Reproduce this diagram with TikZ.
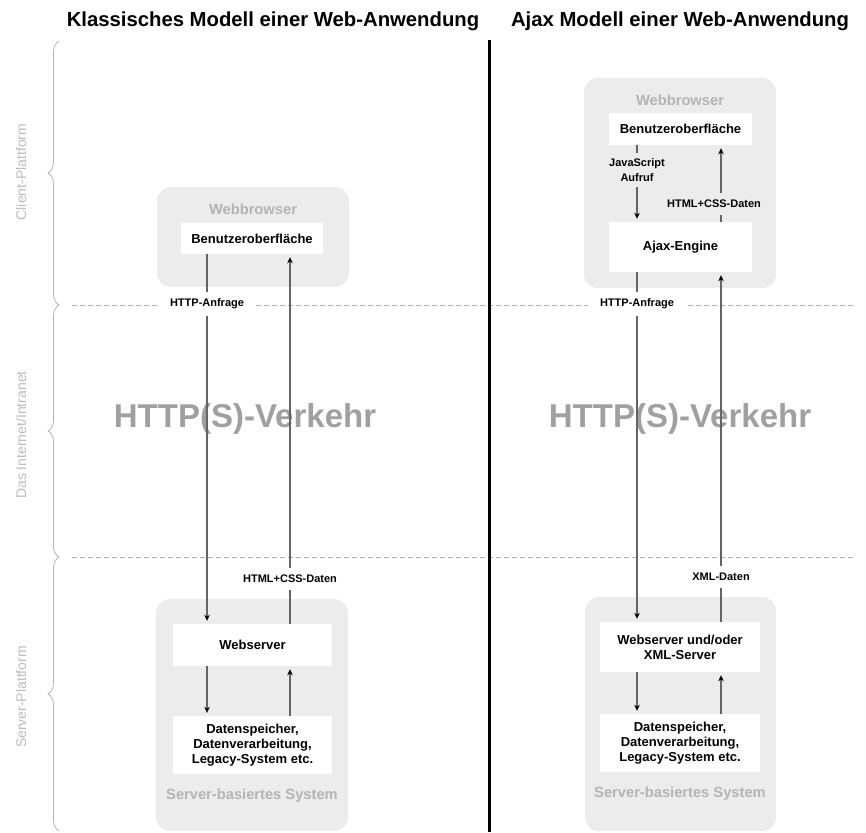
\documentclass[tikz,border=0pt]{standalone}
\usepackage{fontspec}
\setmainfont{Liberation Sans}
\usetikzlibrary{arrows.meta,decorations.pathreplacing}
\definecolor{boxgray}{RGB}{236,236,236}
\definecolor{lblgray}{RGB}{180,180,180}
\definecolor{sidegray}{RGB}{188,188,188}
\definecolor{biggray}{RGB}{160,160,160}
\definecolor{linec}{RGB}{100,100,100}
\definecolor{dashc}{RGB}{175,175,175}
\definecolor{bracec}{RGB}{180,180,180}
\begin{document}
\begin{tikzpicture}[x=1pt,y=-1pt,
  titletxt/.style={inner sep=0pt, font=\bfseries\fontsize{20.3}{24}\selectfont},
  dashline/.style={draw=dashc, line width=0.8pt, dash pattern=on 5pt off 3pt},
  bracestyle/.style={draw=bracec, line width=0.8pt, decorate, decoration={brace, amplitude=11pt}},
  sidelbl/.style={rotate=90, text=sidegray, inner sep=0pt, font=\fontsize{14}{16}\selectfont},
  bigtxt/.style={text=biggray, inner sep=0pt, font=\bfseries\fontsize{33}{38}\selectfont},
  container/.style={fill=boxgray, rounded corners=14pt, inner sep=0pt},
  ctitle/.style={text=lblgray, inner sep=0pt, font=\bfseries\fontsize{14.7}{17}\selectfont},
  innerbox/.style={fill=white, inner sep=0pt, align=center, font=\bfseries\fontsize{13}{15}\selectfont},
  conn/.style={draw=linec, line width=1.1pt, -{Stealth[length=6pt,width=5.5pt,inset=1.8pt,color=black]}, shorten >=3pt},
  flowlbl/.style={fill=white, inner xsep=12pt, inner ysep=7pt, align=center, font=\bfseries\fontsize{11}{15}\selectfont}
]
\useasboundingbox (0,0) rectangle (866,832);
% titles
\node[titletxt] (t1) at (273,21) {Klassisches Modell einer Web-Anwendung};
\node[titletxt] (t2) at (680,21) {Ajax Modell einer Web-Anwendung};
% dashed separators
\draw[dashline] (72,305) -- (853,305);
\draw[dashline] (72,557) -- (853,557);
% braces
\draw[bracestyle] (59,305) -- (59,41);
\draw[bracestyle] (59,557) -- (59,305);
\draw[bracestyle] (59,831) -- (59,557);
% side labels
\node[sidelbl] (s1) at (21,172) {Client-Plattform};
\node[sidelbl] (s2) at (21,435) {Das Internet/Intranet};
\node[sidelbl] (s3) at (21,697) {Server-Plattform};
% big texts
\node[bigtxt] (lv) at (245,419) {HTTP(S)-Verkehr};
\node[bigtxt] (rv) at (680,419) {HTTP(S)-Verkehr};
% containers
\node[container, minimum width=192pt, minimum height=100pt] (lwb) at (253,237) {};
\node[container, minimum width=192pt, minimum height=232pt] (lsv) at (252,715) {};
\node[container, minimum width=192pt, minimum height=210pt] (rwb) at (680,183) {};
\node[container, minimum width=191pt, minimum height=234pt] (rsv) at (680.5,714) {};
% container titles
\node[ctitle] (lwbt) at (253,209) {Webbrowser};
\node[ctitle] (rwbt) at (680,100) {Webbrowser};
\node[ctitle] (lsvt) at (252,796) {Server-basiertes System};
\node[ctitle] (rsvt) at (680,794) {Server-basiertes System};
% inner boxes
\node[innerbox, minimum width=142pt, minimum height=31pt] (lbo) at (252,238.5) {Benutzeroberfläche};
\node[innerbox, minimum width=159pt, minimum height=42pt] (lws) at (252.5,645) {Webserver};
\node[innerbox, minimum width=159pt, minimum height=58pt] (lds) at (252.5,745) {Datenspeicher,\\Datenverarbeitung,\\Legacy-System etc.};
\node[innerbox, minimum width=143pt, minimum height=32pt] (rbo) at (680.5,129) {Benutzeroberfläche};
\node[innerbox, minimum width=143pt, minimum height=50pt] (rae) at (680.5,247) {Ajax-Engine};
\node[innerbox, minimum width=160pt, minimum height=50pt] (rws) at (680,647) {Webserver und/oder\\XML-Server};
\node[innerbox, minimum width=160pt, minimum height=58pt] (rds) at (680,743) {Datenspeicher,\\Datenverarbeitung,\\Legacy-System etc.};
% connector columns
\coordinate (L1) at (207,0);
\coordinate (L2) at (290,0);
\coordinate (R1) at (637,0);
\coordinate (R2) at (721,0);
% connectors
\draw[conn] (lbo.south -| L1) -- (lws.north -| L1);
\draw[conn] (lws.north -| L2) -- (lbo.south -| L2);
\draw[conn] (lws.south -| L1) -- (lds.north -| L1);
\draw[conn] (lds.north -| L2) -- (lws.south -| L2);
\draw[conn] (rbo.south -| R1) -- (rae.north -| R1);
\draw[conn] (rae.north -| R2) -- (rbo.south -| R2);
\draw[conn] (rae.south -| R1) -- (rws.north -| R1);
\draw[conn] (rws.north -| R2) -- (rae.south -| R2);
\draw[conn] (rws.south -| R1) -- (rds.north -| R1);
\draw[conn] (rds.north -| R2) -- (rws.south -| R2);
% connector labels
\node[flowlbl] (lreq) at (207,304) {HTTP-Anfrage};
\node[flowlbl] (lresp) at (290,579) {HTML+CSS-Daten};
\node[flowlbl] (rreq) at (637,304) {HTTP-Anfrage};
\node[flowlbl] (rresp) at (721,577) {XML-Daten};
\node[flowlbl, fill=boxgray, inner ysep=5pt] (rjs) at (637,170) {JavaScript\\Aufruf};
\node[flowlbl, fill=boxgray] (rhtml) at (714,204) {HTML+CSS-Daten};
% divider
\draw[line width=3pt] (489,40) -- (489,832);
\end{tikzpicture}
\end{document}
